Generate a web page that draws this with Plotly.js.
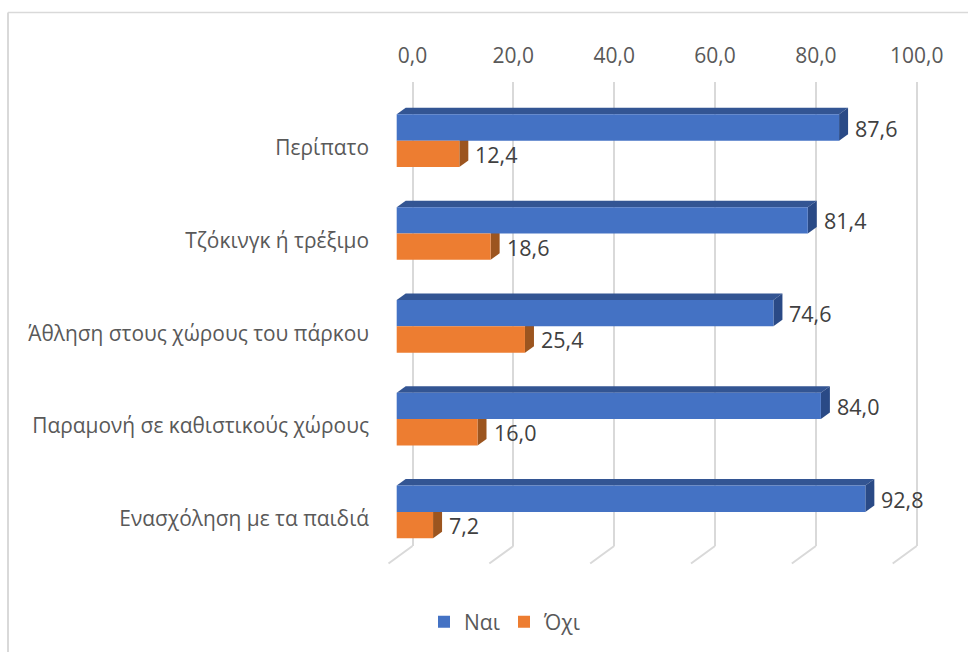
<!DOCTYPE html>
<html>
<head>
<meta charset="utf-8">
<script src="https://cdn.plot.ly/plotly-3.0.1.min.js"></script>
<style>html,body{margin:0;padding:0;background:#fff}</style>
</head>
<body>
<div id="chart" style="width:968px;height:652px"></div>
<script>
const categories = ["Περίπατο","Τζόκινγκ ή τρέξιμο","Άθληση στους χώρους του πάρκου","Παραμονή σε καθιστικούς χώρους","Ενασχόληση με τα παιδιά"];
const yesValues = [87.6,81.4,74.6,84.0,92.8];
const noValues = [12.4,18.6,25.4,16.0,7.2];
const xTicks = [0,20,40,60,80,100];

const W=968,H=652,L=385,R=960,T=82,B=546;
const frontPx=5.05, frontZero=396.7;
const backPx=5.042, backZero=412.5;
const catPx=(B-T)/5;
const firstCentre=140.7;
const FONT='"Open Sans", sans-serif';
const positions=categories.map((_,i)=>i);
const barUnits=26.35/catPx;
const depthX=9/frontPx, depthY=6.5/catPx;
const px=v=>(v-L)/(R-L), py=v=>(B-v)/(B-T);

function sideFace(v,top,bottom,color){
  return {type:'path',xref:'x',yref:'y',layer:'between',fillcolor:color,line:{width:0},
    path:`M${v},${top}L${v+depthX},${top-depthY}L${v+depthX},${bottom-depthY}L${v},${bottom}Z`};
}
function topFace(v,top,color){
  return {type:'path',xref:'x',yref:'y',layer:'between',fillcolor:color,line:{width:0},
    path:`M0,${top}L${depthX},${top-depthY}L${v+depthX},${top-depthY}L${v},${top}Z`};
}
const shapes=[
  {type:'line',xref:'paper',yref:'paper',x0:px(8),x1:px(8),y0:py(12.5),y1:py(652),line:{color:'#d9d9d9',width:2}},
  {type:'line',xref:'paper',yref:'paper',x0:px(8),x1:px(968),y0:py(12.5),y1:py(12.5),line:{color:'#d9d9d9',width:1.5}}
];
xTicks.forEach(t=>shapes.push({type:'line',xref:'x2',yref:'paper',layer:'between',
  x0:t,x1:t-24/backPx,y0:0,y1:-17.5/(B-T),line:{color:'#d9d9d9',width:2}}));
positions.forEach(i=>{
  const t=i-barUnits;
  shapes.push(sideFace(noValues[i],i,i+barUnits,'#9C551F'));
  shapes.push(topFace(yesValues[i],t,'#335593'));
  shapes.push(sideFace(yesValues[i],t,i,'#2A4A86'));
});
const fmt=v=>v.toFixed(1).replace('.',',');
const annotations=[];
positions.forEach(i=>{
  [[yesValues[i],i-barUnits/2],[noValues[i],i+barUnits/2]].forEach(([v,y])=>annotations.push({
    x:v,y:y,xref:'x',yref:'y',text:fmt(v),showarrow:false,xanchor:'left',yanchor:'middle',
    xshift:14,yshift:-0.5,font:{family:FONT,size:21.5,color:'#404040'}}));
});
const data=[
  {type:'bar',orientation:'h',name:'Ναι',y:positions,x:yesValues,marker:{color:'#4472C4'},hoverinfo:'x+name'},
  {type:'bar',orientation:'h',name:'Όχι',y:positions,x:noValues,marker:{color:'#ED7D31'},hoverinfo:'x+name'}
];
const layout={
  width:W,height:H,margin:{l:L,r:W-R,t:T,b:H-B,pad:0},
  paper_bgcolor:'#fff',plot_bgcolor:'rgba(0,0,0,0)',
  separators:',.',barmode:'group',bargap:1-2*barUnits,bargroupgap:0,
  font:{family:FONT,size:21,color:'#595959'},
  xaxis:{range:[(L-frontZero)/frontPx,(R-frontZero)/frontPx],visible:false,showgrid:false,zeroline:false},
  xaxis2:{overlaying:'x',side:'top',anchor:'y',range:[(L-backZero)/backPx,(R-backZero)/backPx],
    tickmode:'array',tickvals:xTicks,tickformat:'.1f',ticks:'',showline:false,zeroline:false,
    showgrid:true,gridcolor:'#d9d9d9',gridwidth:2,ticklabelstandoff:14,
    tickfont:{family:FONT,size:21,color:'#595959'}},
  yaxis:{range:[(B-firstCentre)/catPx,(T-firstCentre)/catPx],tickmode:'array',tickvals:positions,ticktext:categories,
    showgrid:false,zeroline:false,showline:false,ticks:'',ticklabelstandoff:15,ticklabelshift:-7,
    tickfont:{family:FONT,size:20.9,color:'#595959'}},
  legend:{orientation:'h',x:px(424),xanchor:'left',y:py(622),yanchor:'middle',
    entrywidth:35,entrywidthmode:'pixels',traceorder:'normal',
    font:{family:FONT,size:21,color:'#595959'},bgcolor:'rgba(0,0,0,0)'},
  shapes:shapes,annotations:annotations
};
Plotly.newPlot('chart',data,layout,{displayModeBar:false,responsive:false});
</script>
</body>
</html>
